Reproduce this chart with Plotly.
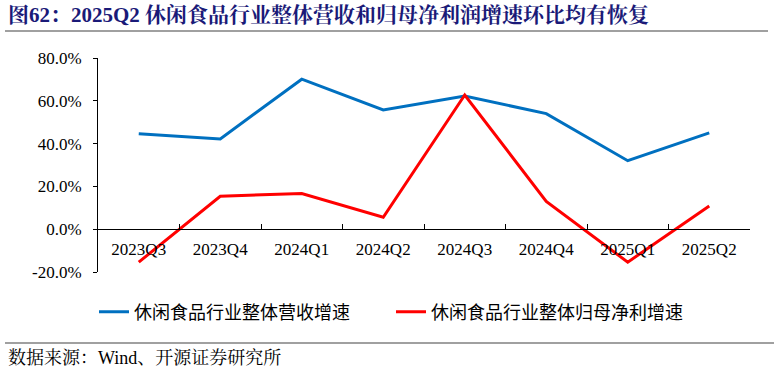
import plotly.graph_objects as go

categories = ["2023Q3", "2023Q4", "2024Q1", "2024Q2", "2024Q3", "2024Q4", "2025Q1", "2025Q2"]
revenue_growth = [44.6, 42.2, 70.1, 55.7, 62.2, 54.0, 32.0, 45.0]
profit_growth = [-15.4, 15.4, 16.7, 5.6, 62.7, 13.0, -15.4, 10.8]
series_names = ["休闲食品行业整体营收增速", "休闲食品行业整体归母净利增速"]
y_ticks = [-20, 0, 20, 40, 60, 80]
y_tick_labels = ["-20.0%", "0.0%", "20.0%", "40.0%", "60.0%", "80.0%"]

W, H = 774, 374
L, R, T, B = 98, 24, 58, 102
pw = W - L - R
ph = H - T - B

def px(x):
    return (x - L) / pw

def py(y):
    return (H - B - y) / ph

SERIF = "Liberation Serif, Times New Roman, Noto Serif CJK SC, Noto Sans CJK SC, serif"
CJK = "Liberation Serif, Noto Sans CJK SC, sans-serif"

fig = go.Figure()
fig.add_trace(go.Scatter(x=categories, y=revenue_growth, mode="lines", name=series_names[0],
                         line=dict(color="#0070C0", width=3)))
fig.add_trace(go.Scatter(x=categories, y=profit_growth, mode="lines", name=series_names[1],
                         line=dict(color="#FF0000", width=3)))

fig.update_layout(
    width=W, height=H,
    margin=dict(l=L, r=R, t=T, b=B, autoexpand=False),
    paper_bgcolor="white", plot_bgcolor="white",
    font=dict(family=SERIF, size=17, color="#000000"),
    showlegend=True,
    legend=dict(orientation="h", x=px(94), y=py(312), yanchor="middle", xanchor="left",
                font=dict(size=18, family=CJK, color="#000000"),
                tracegroupgap=0, entrywidth=252, bgcolor="rgba(0,0,0,0)"),
    xaxis=dict(type="category", range=[-0.5, 7.5], anchor="free", position=0.2,
               showline=True, linecolor="#000000", linewidth=1,
               ticks="inside", tickson="boundaries", ticklen=5, tickcolor="#000000",
               showgrid=False, zeroline=False, tickfont=dict(size=17, family=SERIF),
               ticklabelstandoff=4),
    yaxis=dict(range=[-20, 80], tickvals=y_ticks, ticktext=y_tick_labels,
               showline=True, linecolor="#000000", linewidth=1,
               ticks="outside", ticklen=4, tickcolor="#000000",
               showgrid=False, zeroline=False, tickfont=dict(size=17, family=SERIF),
               ticklabelstandoff=8),
)

fig.add_annotation(text="<b>图62：2025Q2 休闲食品行业整体营收和归母净利润增速环比均有恢复</b>",
                   xref="paper", yref="paper", x=px(6), y=py(15), xanchor="left", yanchor="middle",
                   showarrow=False, font=dict(size=21, color="#1A1A78", family=SERIF))
fig.add_shape(type="line", xref="paper", yref="paper", x0=px(5), x1=px(768), y0=py(31), y1=py(31),
              line=dict(color="#808080", width=1.5))
fig.add_shape(type="line", xref="paper", yref="paper", x0=px(5), x1=px(778), y0=py(343), y1=py(343),
              line=dict(color="#808080", width=1.5))
fig.add_annotation(text="数据来源：Wind、开源证券研究所",
                   xref="paper", yref="paper", x=px(6), y=py(358), xanchor="left", yanchor="middle",
                   showarrow=False, font=dict(size=18, color="#000000", family=SERIF))

fig.write_html("out.html", config={"displayModeBar": False},
               post_script="document.body.style.margin='0';document.body.style.overflow='hidden';")
